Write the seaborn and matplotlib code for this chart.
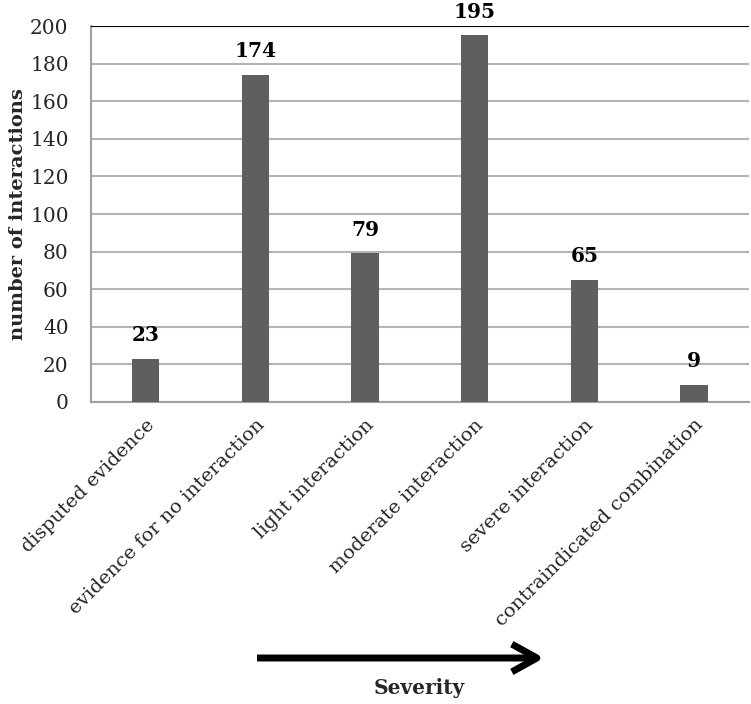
import matplotlib
matplotlib.use("Agg")
import matplotlib.pyplot as plt
import seaborn as sns
import pandas as pd

categories = ['disputed evidence', 'evidence for no interaction', 'light interaction',
              'moderate interaction', 'severe interaction', 'contraindicated combination']
counts = [23, 174, 79, 195, 65, 9]

df = pd.DataFrame({'Severity': categories, 'Interactions': counts})

sns.set_style('white')
plt.rcParams['font.family'] = ['DejaVu Serif']

fig = plt.figure(figsize=(7.51, 7.04), dpi=100)
ax = fig.add_axes([0.121, 0.429, 0.876, 0.534])

sns.barplot(x='Severity', y='Interactions', data=df, color='#5f5f5f',
            width=0.25, saturation=1, ax=ax, zorder=3, edgecolor='none')

ax.set_ylim(0, 200)
ax.set_xlim(-0.5, 5.5)
ax.set_yticks(range(0, 201, 20))
ax.yaxis.grid(True, color='#b4b4b4', linewidth=1.5, zorder=0)
ax.axhline(200, color='black', linewidth=1.5, zorder=4)

for p in ax.patches:
    ax.annotate(f'{int(p.get_height())}', (p.get_x() + p.get_width() / 2., p.get_height()),
                xytext=(0, 17), textcoords='offset points',
                ha='center', va='center', fontsize=14.5, fontweight='bold', color='black')

for side in ['top', 'right']:
    ax.spines[side].set_visible(False)
for side in ['left', 'bottom']:
    ax.spines[side].set_color('#a0a0a0')
    ax.spines[side].set_linewidth(1.5)

ax.tick_params(axis='y', length=5, width=1.5, color='#a0a0a0', labelsize=14.5, pad=11)
ax.tick_params(axis='x', length=0, labelsize=14, pad=10)
plt.setp(ax.get_xticklabels(), rotation=45, ha='right', rotation_mode='anchor')

ax.set_xlabel('')
ax.set_ylabel('number of interactions', fontsize=14, fontweight='bold', labelpad=2)

# severity arrow under the category labels
fig.patches.append(matplotlib.patches.FancyArrowPatch(
    (257 / 751, 1 - 658 / 704), (544 / 751, 1 - 658 / 704), transform=fig.transFigure,
    arrowstyle='->, head_length=0.45, head_width=0.25', mutation_scale=40,
    shrinkA=0, shrinkB=0, linewidth=5, color='black', capstyle='butt', joinstyle='round'))
fig.text(419 / 751, 1 - 688 / 704, 'Severity', ha='center', va='center',
         fontsize=14.5, fontweight='bold')

fig.savefig('out.png', dpi=100)
